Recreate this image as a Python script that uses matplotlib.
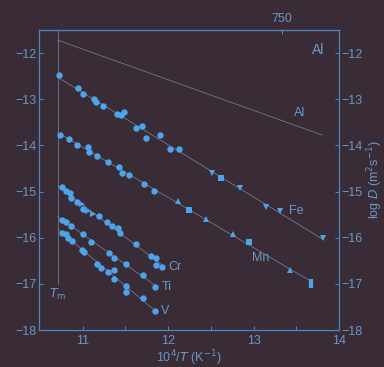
import numpy as np
import matplotlib.pyplot as plt

plt.rcParams['font.family'] = ['Liberation Sans', 'DejaVu Sans']

# data: x = 10^4/T (K^-1), y = log D (m^2 s^-1)
fe_x = [10.72, 10.95, 11.00, 11.13, 11.16, 11.24, 11.40, 11.45, 11.49, 11.63, 11.69,
        11.74, 11.90, 12.02, 12.13, 12.51, 12.62, 12.84, 13.14, 13.31, 13.81]
fe_y = [-12.48, -12.76, -12.89, -13.00, -13.07, -13.15, -13.33, -13.35, -13.28, -13.63, -13.59,
        -13.85, -13.78, -14.07, -14.07, -14.59, -14.70, -14.93, -15.33, -15.43, -16.00]
fe_m = ['o'] * 15 + ['v', 's', 'v', 'v', 'v', 'v']

mn_x = [10.74, 10.84, 10.94, 11.06, 11.08, 11.17, 11.30, 11.43, 11.46, 11.54, 11.72,
        11.83, 12.12, 12.24, 12.44, 12.76, 12.95, 13.43, 13.67]
mn_y = [-13.78, -13.87, -14.00, -14.04, -14.15, -14.22, -14.35, -14.46, -14.59, -14.65, -14.83,
        -14.98, -15.20, -15.41, -15.59, -15.93, -16.09, -16.70, -17.00]
mn_m = ['o'] * 12 + ['^', 's', '^', '^', 's', '^', '|']

cr_x = [10.76, 10.80, 10.85, 10.87, 10.93, 10.99, 11.01, 11.06, 11.12, 11.19, 11.28,
        11.34, 11.41, 11.44, 11.63, 11.80, 11.86, 11.86, 11.93]
cr_y = [-14.91, -14.98, -15.04, -15.13, -15.22, -15.26, -15.37, -15.43, -15.48, -15.54, -15.67,
        -15.74, -15.80, -15.89, -16.13, -16.39, -16.43, -16.59, -16.63]
cr_m = ['o', 'o', 'o', 'o', 'o', '>', 'o', '>', '>', 'o', 'o',
        'o', 'o', 'o', 'o', 'o', 'o', 'o', 'o']

ti_x = [10.76, 10.81, 10.87, 11.00, 11.10, 11.31, 11.37, 11.51, 11.71, 11.85]
ti_y = [-15.61, -15.67, -15.74, -15.91, -16.09, -16.33, -16.43, -16.57, -16.80, -17.07]

v_x = [10.76, 10.80, 10.83, 10.88, 10.99, 11.02, 11.17, 11.22, 11.30, 11.37, 11.37,
       11.51, 11.51, 11.71, 11.85]
v_y = [-15.89, -15.93, -16.00, -16.07, -16.26, -16.30, -16.57, -16.65, -16.74, -16.70, -16.89,
       -17.04, -17.17, -17.30, -17.59]

al_x = [10.71, 13.81]
al_y = [-11.72, -13.78]

tm_x = 10.71
top_ticks = [13.33]
top_labels = ['750']

bg = '#3a2c37'
pt = '#4ea4ea'
ln = '#7a879e'
tx = '#6a98c6'
sp = '#4f86c0'

fig = plt.figure(figsize=(3.84, 3.67), dpi=100, facecolor=bg)
ax = fig.add_axes([0.1016, 0.1008, 0.7813, 0.8174], facecolor=bg)

def series(xs, ys, marks, x0, x1):
    k, b = np.polyfit(xs, ys, 1)
    xx = np.array([x0, x1])
    ax.plot(xx, k * xx + b, color=ln, lw=0.5, zorder=1)
    for x, y, m in zip(xs, ys, marks):
        if m == '|':
            ax.plot(x, y, marker='s', ms=3.5, color=pt, zorder=3, markeredgewidth=0)
            ax.plot([x, x], [y - 0.1, y + 0.1], color=pt, lw=3, solid_capstyle='butt', zorder=3)
        else:
            ax.plot(x, y, marker=m, ms=4.6 if m == 'o' else 4.2, color=pt,
                    markeredgewidth=0, zorder=3)

series(fe_x, fe_y, fe_m, 10.71, 13.82)
series(mn_x, mn_y, mn_m, 10.71, 13.68)
series(cr_x, cr_y, cr_m, 10.71, 11.95)
series(ti_x, ti_y, ['o'] * len(ti_x), 10.71, 11.87)
series(v_x, v_y, ['o'] * len(v_x), 10.71, 11.87)

ax.plot(al_x, al_y, color=ln, lw=0.5, zorder=1)
ax.plot([tm_x, tm_x], [-11.5, -17.0], color=ln, lw=0.5, zorder=1)

fs = 9
ax.text(13.47, -13.3, 'Al', color=tx, fontsize=fs, ha='left', va='center')
ax.text(13.68, -11.93, 'Al', color=tx, fontsize=fs + 1, ha='left', va='center')
ax.text(13.42, -15.42, 'Fe', color=tx, fontsize=fs, ha='left', va='center')
ax.text(12.98, -16.45, 'Mn', color=tx, fontsize=fs, ha='left', va='center')
ax.text(12.0, -16.63, 'Cr', color=tx, fontsize=fs, ha='left', va='center')
ax.text(11.92, -17.07, 'Ti', color=tx, fontsize=fs, ha='left', va='center')
ax.text(11.92, -17.58, 'V', color=tx, fontsize=fs, ha='left', va='center')
ax.text(tm_x, -17.22, r'$T_\mathrm{m}$', color=tx, fontsize=fs, ha='center', va='center')

ax.set_xlim(10.49, 14.0)
ax.set_ylim(-18.0, -11.5)
ax.set_xticks([11, 12, 13, 14])
ax.set_xticks([11.5, 12.5, 13.5], minor=True)
ax.set_yticks([-12, -13, -14, -15, -16, -17, -18])
ax.tick_params(axis='both', which='both', direction='in', colors=sp, labelcolor=tx,
               labelsize=fs, length=3, width=0.7, right=True, labelright=True)
ax.tick_params(axis='y', pad=2)
for s in ax.spines.values():
    s.set_color(sp)
    s.set_linewidth(0.9)

top = ax.secondary_xaxis('top')
top.set_xticks(top_ticks)
top.set_xticklabels(top_labels)
top.tick_params(direction='in', colors=sp, labelcolor=tx, labelsize=fs, length=3, width=0.7)
top.spines['top'].set_color(sp)

ax.set_xlabel(r'10$^4$/$T$ (K$^{-1}$)', color=tx, fontsize=fs, labelpad=1)
ax.yaxis.set_label_position('right')
ax.set_ylabel(r'log $D$ (m$^2$s$^{-1}$)', color=tx, fontsize=fs, labelpad=2)

fig.savefig('out.png', dpi=100, facecolor=bg)
